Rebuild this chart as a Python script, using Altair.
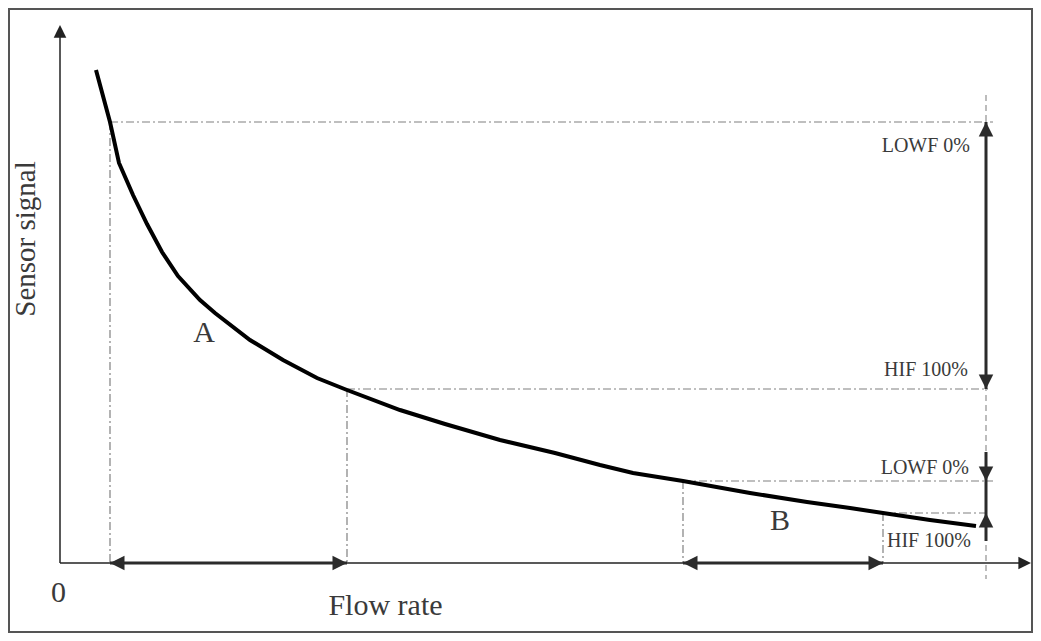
import altair as alt
import pandas as pd

# ---- data (flow / signal units) ----
curve_flow = [3.6, 5.0, 5.9, 7.3, 8.7, 10.2, 11.8, 14.0, 15.5, 19.0, 22.3, 25.7, 28.7,
              34.0, 38.5, 44.0, 49.5, 54.0, 57.3, 62.3, 69.0, 74.7, 79.0, 82.3, 87.0, 91.6]
curve_signal = [49.3, 44.1, 40.0, 36.8, 33.9, 31.1, 28.7, 26.3, 25.0, 22.3, 20.3, 18.5, 17.3,
                15.3, 13.9, 12.3, 11.0, 9.8, 9.0, 8.2, 7.0, 6.1, 5.5, 5.0, 4.3, 3.7]

mark_flows = [5.0, 28.7, 62.3, 82.3]          # A start, A end, B start, B end
level_signals = [44.1, 17.4, 8.2, 5.0]         # LOWF A, HIF A, LOWF B, HIF B
guide_ends = [93.3, 92.8, 93.3, 93.0]
marker_flow = 92.6
marker_span = [46.8, -1.6]
shaft_b = [11.1, 2.2]
x_axis_end = 97.1
y_axis_end = 53.8

big_texts = ["Flow rate", "0", "A", "B"]
big_x = [32.55, -0.16, 14.4, 72.0]
big_y = [-5.2, -3.9, 22.1, 3.3]

lab_texts = ["LOWF 0%", "HIF 100%", "LOWF 0%"]
lab_x = [91.0, 90.8, 90.9]
lab_y = [41.1, 18.7, 8.9]
lab_left_text = ["HIF 100%"]
lab_left_x = [82.7]
lab_left_y = [1.6]

# ---- tables ----
curve = pd.DataFrame({"x": curve_flow, "y": curve_signal})

guides = []
for f, s, e in zip(mark_flows, level_signals, guide_ends):
    guides.append({"x": f, "y": s, "x2": e, "y2": s})      # horizontal
    guides.append({"x": f, "y": s, "x2": f, "y2": 0})      # vertical drop
guides = pd.DataFrame(guides)

marker = pd.DataFrame([{"x": marker_flow, "y": marker_span[0], "x2": marker_flow, "y2": marker_span[1]}])

axes = pd.DataFrame([
    {"x": 0, "y": 0, "x2": x_axis_end - 0.5, "y2": 0},
    {"x": 0, "y": 0, "x2": 0, "y2": y_axis_end - 0.5},
])

shafts = pd.DataFrame([
    {"x": mark_flows[0], "y": 0, "x2": mark_flows[1], "y2": 0},
    {"x": mark_flows[2], "y": 0, "x2": mark_flows[3], "y2": 0},
    {"x": marker_flow, "y": level_signals[0], "x2": marker_flow, "y2": level_signals[1]},
    {"x": marker_flow, "y": shaft_b[0], "x2": marker_flow, "y2": shaft_b[1]},
])

heads = pd.DataFrame([
    {"x": mark_flows[0], "y": 0, "angle": 270},
    {"x": mark_flows[1], "y": 0, "angle": 90},
    {"x": mark_flows[2], "y": 0, "angle": 270},
    {"x": mark_flows[3], "y": 0, "angle": 90},
    {"x": marker_flow, "y": level_signals[0], "angle": 0},
    {"x": marker_flow, "y": level_signals[1], "angle": 180},
    {"x": marker_flow, "y": level_signals[2], "angle": 180},
    {"x": marker_flow, "y": level_signals[3], "angle": 0},
])
axis_heads = pd.DataFrame([
    {"x": x_axis_end, "y": 0, "angle": 90},
    {"x": 0, "y": y_axis_end, "angle": 0},
])

big = pd.DataFrame({"x": big_x, "y": big_y, "t": big_texts})
labs = pd.DataFrame({"x": lab_x, "y": lab_y, "t": lab_texts})
labs_left = pd.DataFrame({"x": lab_left_x, "y": lab_left_y, "t": lab_left_text})
ytitle = pd.DataFrame({"x": [-3.45], "y": [32.4], "t": ["Sensor signal"]})

# ---- scales ----
xs = alt.Scale(domain=[-5.1, 97.2], nice=False, zero=False)
ys = alt.Scale(domain=[-6.9, 55.4], nice=False, zero=False)
X = lambda: alt.X("x:Q", scale=xs, axis=None)
Y = lambda: alt.Y("y:Q", scale=ys, axis=None)

ARROW = "M0,0L-1,2L1,2Z"
FONT = "Liberation Serif"
TXT = "#3a3a3a"

guide_layer = alt.Chart(guides).mark_rule(color="#808080", strokeWidth=1.2,
                                          strokeDash=[8, 3, 2, 3]).encode(
    x=X(), y=Y(), x2="x2:Q", y2="y2:Q")
marker_layer = alt.Chart(marker).mark_rule(color="#909090", strokeWidth=1.2,
                                           strokeDash=[6, 4]).encode(
    x=X(), y=Y(), x2="x2:Q", y2="y2:Q")
axes_layer = alt.Chart(axes).mark_rule(color="#222222", strokeWidth=1.5).encode(
    x=X(), y=Y(), x2="x2:Q", y2="y2:Q")
shaft_layer = alt.Chart(shafts).mark_rule(color="#2b2b2b", strokeWidth=3).encode(
    x=X(), y=Y(), x2="x2:Q", y2="y2:Q")
curve_layer = alt.Chart(curve).mark_line(color="#000000", strokeWidth=4).encode(
    x=X(), y=Y(), order="x:Q")
head_layer = alt.Chart(heads).mark_point(shape=ARROW, filled=True, size=210,
                                         color="#2b2b2b", opacity=1, strokeWidth=0).encode(
    x=X(), y=Y(), angle=alt.Angle("angle:Q", scale=None))
axis_head_layer = alt.Chart(axis_heads).mark_point(shape=ARROW, filled=True, size=160,
                                                   color="#222222", opacity=1, strokeWidth=0).encode(
    x=X(), y=Y(), angle=alt.Angle("angle:Q", scale=None))
big_layer = alt.Chart(big).mark_text(font=FONT, fontSize=30, color=TXT, align="center",
                                     baseline="alphabetic").encode(x=X(), y=Y(), text="t:N")
lab_layer = alt.Chart(labs).mark_text(font=FONT, fontSize=20, color=TXT, align="right",
                                      baseline="alphabetic").encode(x=X(), y=Y(), text="t:N")
lab_left_layer = alt.Chart(labs_left).mark_text(font=FONT, fontSize=20, color=TXT, align="left",
                                                baseline="alphabetic").encode(x=X(), y=Y(), text="t:N")
ytitle_layer = alt.Chart(ytitle).mark_text(font=FONT, fontSize=29, color=TXT, align="center",
                                           baseline="middle", angle=270).encode(x=X(), y=Y(), text="t:N")

chart = alt.layer(
    guide_layer, marker_layer, axes_layer, shaft_layer, curve_layer,
    head_layer, axis_head_layer, big_layer, lab_layer, lab_left_layer, ytitle_layer
).properties(
    width=1023, height=623, autosize="none",
    padding={"left": 1, "top": 1, "right": 1, "bottom": 1},
    background="white",
).configure_view(stroke="#555555", strokeWidth=2)

chart.save("out.html", embed_options={"renderer": "svg", "actions": False})
